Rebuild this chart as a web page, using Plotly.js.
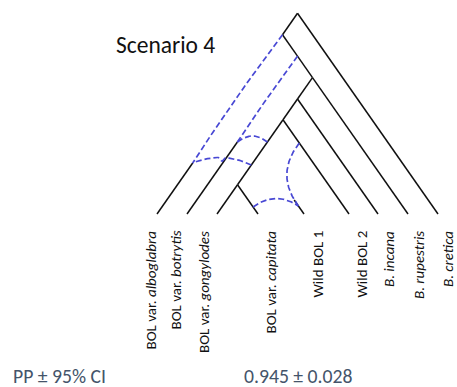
<!DOCTYPE html>
<html><head><meta charset="utf-8">
<script src="https://cdn.plot.ly/plotly-3.0.1.min.js"></script>
<style>html,body{margin:0;padding:0;background:#fff}#chart{width:457px;height:387px}</style>
</head><body><div id="chart"></div>
<script>
// ---- tree data ----
const tipNames = ["BOL var. <i>alboglabra</i>", "BOL var. <i>botrytis</i>", "BOL var. <i>gongylodes</i>",
  "BOL var. <i>capitata</i>", "Wild BOL 1", "Wild BOL 2", "<i>B. incana</i>", "<i>B. rupestris</i>", "<i>B. cretica</i>"];
const tipPos = [157, 187, 217, 258, 304, 349, 378, 408, 438];
const tipLabelPos = [150, 175, 204, 270, 317, 361, 389, 419, 448];
// internal nodes given by their leftmost / rightmost descendant tip
const nodeNames = ["root", "N2", "N3", "N4", "N5", "N6", "N7"];
const nodeSpanL = [0, 0, 1, 2, 2, 2, 2];
const nodeSpanR = [8, 7, 7, 7, 6, 5, 3];
// tree edges (solid)
const edgeFrom = ["root", "root", "N2", "N3", "N4", "N4", "N5", "N5", "N6", "N6", "N7", "N7"];
const edgeTo   = ["t8",   "N2",   "N3", "N4", "t7", "N5", "t6", "N6", "t5", "N7", "t2", "t3"];
// hybrid tips: parent node (dashed lineage), stub top depth
const hybTip = [0, 1, 4];
const hybParent = ["N2", "N3", null];
const hybStubTop = [163, 142, 200];
// admixture arcs: source edge, depth on source edge, target tip, depth on target
const arcEdgeFrom = ["N6", "N5", "N6", "N7"];
const arcEdgeTo   = ["N7", "N6", "t5", "t3"];
const arcSrcDepth = [165, 142, 143, 207];
const arcTargetTip = [0, 1, 4, 4];
const arcTargetDepth = [163, 142, 206, 206];

// ---- geometry helpers ----
const BASE = 214, K = 0.7;
function nodePos(id) {
  if (id[0] === 't') { const i = +id.slice(1); return [tipPos[i], BASE]; }
  const j = nodeNames.indexOf(id);
  const xl = tipPos[nodeSpanL[j]], xr = tipPos[nodeSpanR[j]];
  return [(xl + xr) / 2, BASE - (xr - xl) / 2 / K];
}
function onEdge(a, b, y) {
  const p = nodePos(a), q = nodePos(b);
  return [p[0] + (q[0] - p[0]) * (y - p[1]) / (q[1] - p[1]), y];
}
const hybDir = {0: 1, 1: 1, 4: -1};
function onTipLine(t, y) { return [tipPos[t] + hybDir[t] * K * (BASE - y), y]; }
function bez(p0, p1, bulge, n) {
  const dx = p1[0] - p0[0], dy = p1[1] - p0[1], L = Math.hypot(dx, dy);
  const nx = -dy / L, ny = dx / L;
  const c = [(p0[0] + p1[0]) / 2 + nx * bulge, (p0[1] + p1[1]) / 2 + ny * bulge];
  const xs = [], ys = [];
  for (let i = 0; i <= n; i++) {
    const t = i / n, u = 1 - t;
    xs.push(u * u * p0[0] + 2 * u * t * c[0] + t * t * p1[0]);
    ys.push(u * u * p0[1] + 2 * u * t * c[1] + t * t * p1[1]);
  }
  return [xs, ys];
}

// ---- solid tree ----
const bx = [], by = [];
edgeFrom.forEach((f, i) => {
  const p = nodePos(f), q = nodePos(edgeTo[i]);
  bx.push(p[0], q[0], null); by.push(p[1], q[1], null);
});
hybTip.forEach((t, i) => {
  const top = onTipLine(t, hybStubTop[i]);
  bx.push(top[0], tipPos[t], null); by.push(top[1], BASE, null);
});

// ---- dashed lineages / admixture ----
const dx = [], dy = [];
const lineageBulge = [3, 1.5];
hybTip.forEach((t, i) => {
  if (!hybParent[i]) return;
  const c = bez(nodePos(hybParent[i]), onTipLine(t, hybStubTop[i]), lineageBulge[i], 30);
  dx.push(...c[0], null); dy.push(...c[1], null);
});
const arcBulge = [13, 12, 24, -16];
arcEdgeFrom.forEach((f, i) => {
  const p0 = onEdge(f, arcEdgeTo[i], arcSrcDepth[i]);
  const p1 = onTipLine(arcTargetTip[i], arcTargetDepth[i]);
  const c = bez(p0, p1, arcBulge[i], 60);
  if (i === 0) { // small hop where it crosses the botrytis lineage
    const xc = 222;
    for (let k = 0; k < c[0].length; k++) {
      const d = Math.abs(c[0][k] - xc);
      if (d < 3.5) c[1][k] += 4 * (1 - d / 3.5);
    }
  }
  dx.push(...c[0], null); dy.push(...c[1], null);
});

const traces = [
  {x: bx, y: by, mode: 'lines', line: {color: '#111', width: 1.5}, hoverinfo: 'skip', type: 'scatter'},
  {x: dx, y: dy, mode: 'lines', line: {color: '#4848d4', width: 1.7, dash: '6px,3px'}, hoverinfo: 'skip', type: 'scatter'}
];

const FONT = "Carlito, 'Open Sans', 'Noto Sans', sans-serif";
const annotations = tipNames.map((name, i) => ({
  x: tipLabelPos[i], y: 229, xref: 'x', yref: 'y', text: name, showarrow: false,
  textangle: -90, xanchor: 'center', yanchor: 'top', font: {family: FONT, size: 15, color: '#111'}
}));
annotations.push({x: 114, y: 45, xref: 'x', yref: 'y', text: 'Scenario 4', showarrow: false,
  xanchor: 'left', yanchor: 'middle', font: {family: FONT, size: 23.5, color: '#111'}});
annotations.push({x: 11, y: 376, xref: 'x', yref: 'y', text: 'PP ± 95% CI', showarrow: false,
  xanchor: 'left', yanchor: 'middle', font: {family: FONT, size: 19.7, color: '#44546a'}});
annotations.push({x: 242, y: 376, xref: 'x', yref: 'y', text: '0.945 ± 0.028', showarrow: false,
  xanchor: 'left', yanchor: 'middle', font: {family: FONT, size: 19.7, color: '#44546a'}});

const layout = {
  width: 457, height: 387, margin: {l: 0, r: 0, t: 0, b: 0},
  paper_bgcolor: '#fff', plot_bgcolor: '#fff', showlegend: false,
  xaxis: {range: [0, 457], visible: false, fixedrange: true},
  yaxis: {range: [387, 0], visible: false, fixedrange: true},
  annotations: annotations
};
Plotly.newPlot('chart', traces, layout, {staticPlot: true, displayModeBar: false});
</script></body></html>
